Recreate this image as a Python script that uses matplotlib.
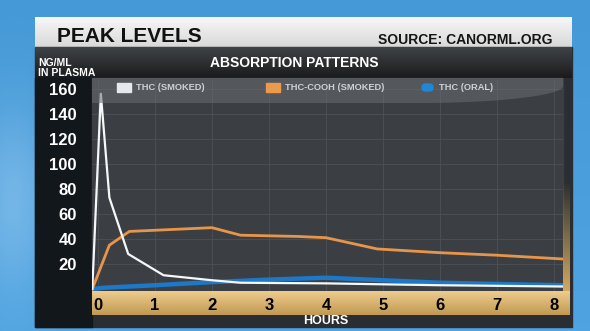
import numpy as np
import matplotlib
matplotlib.use('Agg')
import matplotlib.pyplot as plt
from matplotlib.patches import Rectangle, Polygon, FancyBboxPatch

# hours after use / concentration in ng/ml
hours_thc = [-0.1, 0.05, 0.2, 0.53, 1.15, 2.0, 2.5, 4.0, 6.0, 8.15]
thc_smoked = [0, 156, 73, 28, 11, 7, 5, 4.5, 3, 2]

hours_cooh = [-0.1, 0.2, 0.55, 2.0, 2.5, 3.5, 4.0, 4.9, 6.0, 7.0, 8.15]
thc_cooh_smoked = [0, 35, 46, 49, 43, 42, 41, 32, 29, 27, 24]

hours_oral = [-0.1, 0.1, 1.0, 2.0, 3.0, 4.0, 5.0, 6.0, 7.0, 8.15]
thc_oral = [0, 1, 3, 5.5, 7.5, 9, 7, 5, 4, 3]

x_ticks = [0, 1, 2, 3, 4, 5, 6, 7, 8]
y_ticks = [20, 40, 60, 80, 100, 120, 140, 160]

W, H = 590, 331
BOLD = ['Liberation Sans', 'DejaVu Sans']
NARROW = ['Liberation Sans Narrow', 'Liberation Sans', 'DejaVu Sans']


def pixel_axes(fig):
    a = fig.add_axes([0, 0, 1, 1])
    a.set_xlim(0, W)
    a.set_ylim(H, 0)
    a.axis('off')
    a.set_facecolor('none')
    return a


fig = plt.figure(figsize=(W / 100, H / 100), dpi=100)

# backdrop drawn in pixel coordinates
bg = pixel_axes(fig)
gx = np.linspace(0, 1, 200)
gy = np.linspace(0, 1, 120)
GX, GY = np.meshgrid(gx, gy)
light = 0.35 * np.exp(-((GX - 0.02) ** 2) / 0.004) * np.exp(-((GY - 0.6) ** 2) / 0.08)
sky = np.dstack([0.27 + 0.45 * light, 0.60 + 0.25 * light, 0.84 + 0.12 * light])
sky += 0.04 * GY[..., None]
bg.imshow(np.clip(sky, 0, 1), extent=[0, W, H, 0], aspect='auto', zorder=0)

# header strip
hdr = np.linspace(0.97, 0.85, 40)[:, None] * np.ones((1, 10))
bg.imshow(np.dstack([hdr, hdr, hdr]), extent=[35, 572, 47, 17], aspect='auto', zorder=1)
bg.text(57, 36, 'PEAK LEVELS', fontsize=15, fontweight='bold', family=BOLD,
        color='#111111', va='center', zorder=2)
bg.text(553, 40, 'SOURCE: CANORML.ORG', fontsize=10, fontweight='bold', family=BOLD,
        color='#151515', va='center', ha='right', zorder=2)

# dark panel, y-label column, title strip, plot face
bg.add_patch(Rectangle((35, 47), 537, 280, color='#2a2d31', zorder=1))
strip = np.linspace(0.25, 0.10, 30)[:, None] * np.ones((1, 10))
bg.imshow(np.dstack([strip, strip * 1.05, strip * 1.1]), extent=[35, 572, 78, 47],
          aspect='auto', zorder=1)
bg.add_patch(Rectangle((35, 78), 57, 249, color='#12171c', zorder=1))
bg.add_patch(Rectangle((92, 78), 471, 213, color='#3b3e43', zorder=1))

# gold axis band and right border
gold = np.linspace(0.0, 1.0, 30)[:, None] * np.ones((1, 10))
c0 = np.array([0.93, 0.80, 0.55])
c1 = np.array([0.76, 0.60, 0.33])
band = c0[None, None, :] * (1 - gold[..., None]) + c1[None, None, :] * gold[..., None]
bg.imshow(band, extent=[92, 570, 315, 291], aspect='auto', zorder=2)
side = np.linspace(0, 1, 50)[:, None] * np.ones((1, 4))
side_rgba = np.dstack([np.full_like(side, 0.82), np.full_like(side, 0.66),
                       np.full_like(side, 0.38), side])
bg.imshow(side_rgba, extent=[563, 570, 291, 180], aspect='auto', zorder=2)

bg.text(210, 63, 'ABSORPTION PATTERNS', fontsize=10, fontweight='bold', family=BOLD,
        color='white', va='center', zorder=3)
bg.text(38, 68, 'NG/ML\nIN PLASMA', fontsize=7.5, fontweight='bold', family=BOLD,
        color='white', va='center', linespacing=0.95, zorder=3)
bg.text(326, 321, 'HOURS', fontsize=9, fontweight='bold', family=BOLD,
        color='white', va='center', ha='center', zorder=3)

# chart axes
ax = fig.add_axes([92 / W, (H - 291) / H, 471 / W, 211 / H])
ax.set_facecolor('none')
ax.set_xlim(-0.105, 8.16)
ax.set_ylim(-1.6, 167)
for s in ax.spines.values():
    s.set_visible(False)

ax.set_xticks(x_ticks)
ax.set_yticks(y_ticks)
ax.grid(True, color='#4b4e53', linewidth=0.7)
ax.tick_params(length=0)
ax.tick_params(axis='x', pad=5, labelsize=12, labelcolor='black')
ax.tick_params(axis='y', pad=11, labelsize=12, labelcolor='white')
for lab in ax.get_xticklabels():
    lab.set_fontweight('bold')
    lab.set_family(BOLD)
for lab in ax.get_yticklabels():
    lab.set_fontweight('bold')
    lab.set_family(NARROW)

ax.plot(hours_oral, thc_oral, color='#1d78c8', lw=3.2, solid_capstyle='round', zorder=3)
ax.plot(hours_cooh, thc_cooh_smoked, color='#e8954c', lw=2.0, zorder=4)
ax.plot(hours_thc, thc_smoked, color='#f6f7f8', lw=1.6, zorder=5)

# glossy band and legend on top of the grid
fg = pixel_axes(fig)
gloss = [(92, 78), (563, 78), (563, 86)]
for t in np.linspace(0, np.pi / 2, 30):
    gloss.append((420 + 143 * np.cos(t), 86 + 17 * np.sin(t)))
gloss.append((92, 103))
fg.add_patch(Polygon(gloss, closed=True, facecolor='#6a6d72', edgecolor='none',
                     alpha=0.55, zorder=1))

legend = [('THC (SMOKED)', '#e6e9ec', 117), ('THC-COOH (SMOKED)', '#eb9a4c', 266),
          ('THC (ORAL)', '#1f86d8', 420)]
for label, col, lx in legend:
    if label == 'THC (ORAL)':
        fg.add_patch(FancyBboxPatch((lx + 2, 84), 11, 7, boxstyle='round,pad=0,rounding_size=3.5',
                                    color=col, zorder=2))
    else:
        fg.add_patch(Rectangle((lx, 83), 14, 9, color=col, zorder=2))
    fg.text(lx + 19, 87.5, label, fontsize=6.7, fontweight='bold', family=NARROW,
            color='#cfd1d3', va='center', zorder=2)

fig.savefig('out.png', dpi=100)
